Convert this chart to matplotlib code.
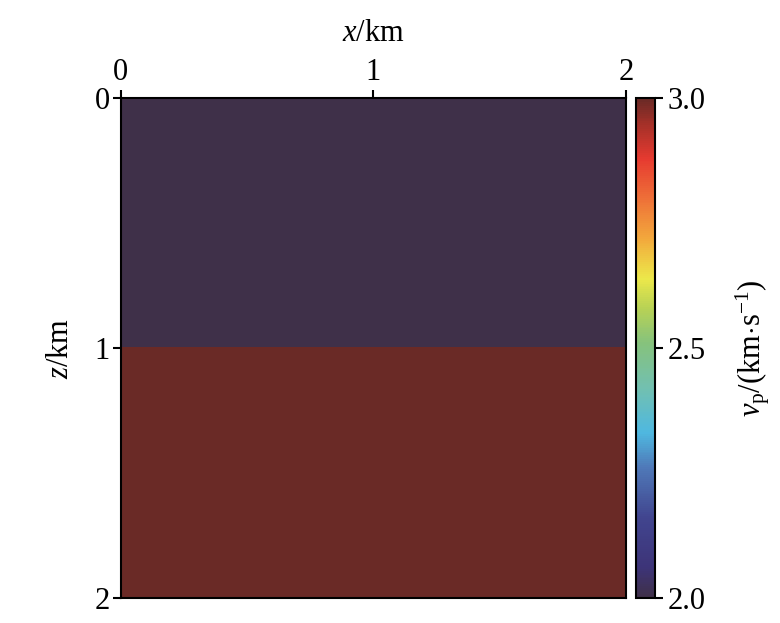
import numpy as np
import matplotlib
matplotlib.use("Agg")
import matplotlib.pyplot as plt
from matplotlib.colors import LinearSegmentedColormap

plt.rcParams["font.family"] = "Liberation Serif"
plt.rcParams["mathtext.fontset"] = "custom"
plt.rcParams["mathtext.rm"] = "Liberation Serif"
plt.rcParams["mathtext.it"] = "Liberation Serif:italic"
plt.rcParams["font.size"] = 22

# two-layer velocity model
x_extent = [0, 2]          # km
z_extent = [0, 2]          # km
layer_tops = [0.0, 1.0]    # km
layer_vp = [2.0, 3.0]      # km/s
x_ticks = [0, 1, 2]
z_ticks = [0, 1, 2]
cbar_ticks = [2.0, 2.5, 3.0]

nz, nx = 200, 200
z = np.linspace(z_extent[0], z_extent[1], nz)
vel = np.full((nz, nx), layer_vp[0])
for top, v in zip(layer_tops, layer_vp):
    vel[z >= top, :] = v

cmap = LinearSegmentedColormap.from_list("vp", [
    (0.00, "#3f3049"),
    (0.06, "#3d3478"),
    (0.16, "#41458f"),
    (0.26, "#4f79b8"),
    (0.33, "#4fb8e0"),
    (0.42, "#72c0b0"),
    (0.51, "#86c27c"),
    (0.58, "#b8d255"),
    (0.64, "#ece84a"),
    (0.72, "#f2a83c"),
    (0.80, "#ee7038"),
    (0.88, "#e63a30"),
    (0.95, "#a33028"),
    (1.00, "#6a2a26"),
])

fig = plt.figure(figsize=(7.8, 6.23), dpi=100)
ax = fig.add_axes([0.155, 0.0401, 0.6475, 0.8026])
im = ax.imshow(vel, cmap=cmap, vmin=2.0, vmax=3.0, aspect="auto",
               extent=[x_extent[0], x_extent[1], z_extent[1], z_extent[0]],
               interpolation="nearest")
ax.xaxis.tick_top()
ax.xaxis.set_label_position("top")
ax.set_xticks(x_ticks)
ax.set_yticks(z_ticks)
ax.set_xlabel(r"$x$/km", labelpad=12)
ax.set_ylabel(r"$z$/km", labelpad=14)
ax.tick_params(direction="out", length=6, width=1.5, pad=2)
for s in ax.spines.values():
    s.set_linewidth(1.5)

cax = fig.add_axes([0.815, 0.0401, 0.0245, 0.8026])
cb = fig.colorbar(im, cax=cax, ticks=cbar_ticks)
cb.ax.set_yticklabels(["2.0", "2.5", "3.0"])
cb.ax.tick_params(direction="out", length=6, width=1.5, pad=3)
cb.outline.set_linewidth(1.5)
cb.set_label(r"$v_\mathrm{p}$/(km$\cdot$s$^{-1}$)", labelpad=20)

fig.savefig("out.png", dpi=100)
